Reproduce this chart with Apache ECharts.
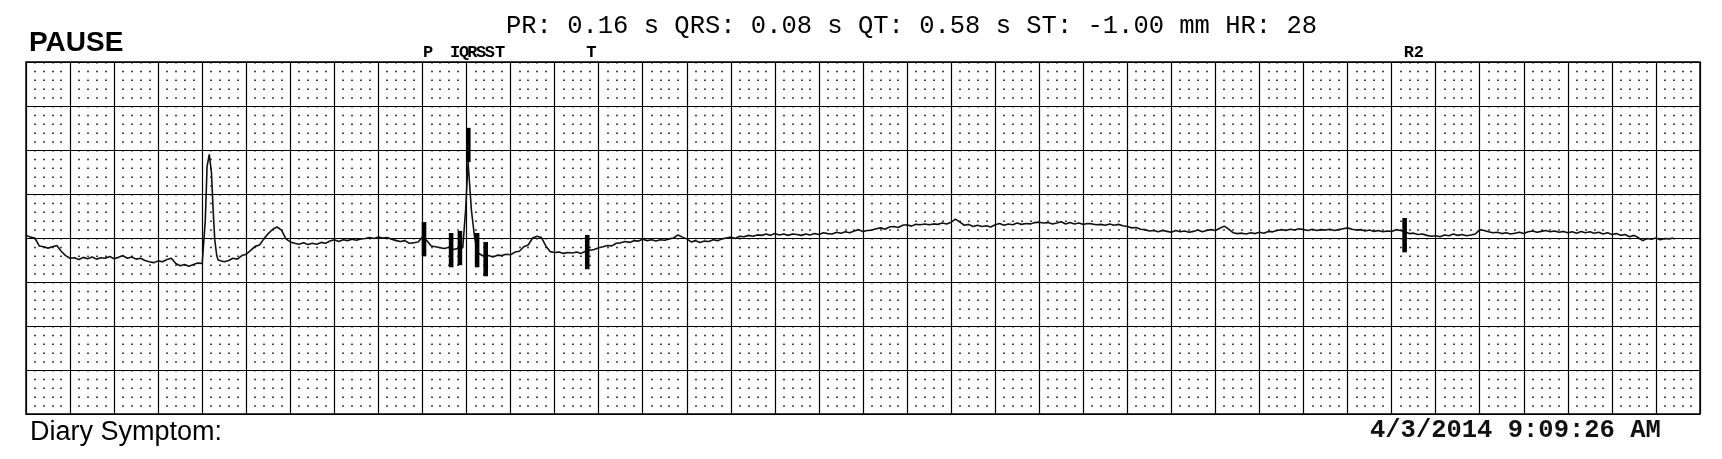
<!DOCTYPE html>
<html>
<head>
<meta charset="utf-8">
<script src="https://cdn.jsdelivr.net/npm/echarts@6/dist/echarts.min.js"></script>
<style>
html,body{margin:0;padding:0;background:#fff;}
#chart{width:1722px;height:459px;}
</style>
</head>
<body>
<div id="chart"></div>
<script>
// ---- DATA ----
const stripTitle = 'PAUSE';
const measurements = 'PR: 0.16 s QRS: 0.08 s QT: 0.58 s ST: -1.00 mm HR: 28';
const footerLeft = 'Diary Symptom:';
const footerRight = '4/3/2014 9:09:26 AM';

// ECG trace: [time (s), amplitude (mm, 10 mm = 1 mV)]
const ecgTrace = [
[0.00,0.3],[0.02,0.1],[0.04,0.0],[0.06,-0.9],[0.08,-1.0],[0.10,-1.15],[0.12,-1.0],[0.14,-0.85],[0.16,-1.5],[0.18,-2.0],
[0.20,-2.3],[0.22,-2.25],[0.24,-2.45],[0.26,-2.2],[0.28,-2.35],[0.30,-2.15],[0.32,-2.4],[0.34,-2.25],[0.36,-2.3],[0.38,-2.1],
[0.40,-2.35],[0.42,-2.2],[0.44,-2.0],[0.46,-2.3],[0.48,-2.15],[0.50,-2.4],[0.52,-2.3],[0.54,-2.55],[0.56,-2.7],[0.58,-2.8],
[0.60,-2.6],[0.62,-2.7],[0.64,-2.45],[0.66,-2.3],[0.68,-2.9],[0.70,-3.15],[0.72,-3.0],[0.74,-3.2],[0.76,-3.0],[0.78,-2.85],
[0.80,-2.9],[0.807,-2.8],[0.814,2.0],[0.822,8.1],[0.832,9.5],[0.842,7.4],[0.850,3.0],[0.857,-0.2],[0.866,-2.0],[0.872,-2.5],
[0.88,-2.6],[0.90,-2.7],[0.92,-2.55],[0.94,-2.3],[0.96,-2.4],[0.98,-2.0],[1.00,-1.85],[1.02,-1.4],[1.04,-0.95],[1.06,-0.8],
[1.08,-0.1],[1.10,0.5],[1.12,1.0],[1.14,1.25],[1.16,0.9],[1.18,-0.1],[1.20,-0.45],[1.22,-0.6],[1.24,-0.7],[1.26,-0.55],
[1.28,-0.75],[1.30,-0.6],[1.32,-0.7],[1.34,-0.5],[1.36,-0.6],[1.38,-0.35],[1.40,-0.2],[1.42,-0.4],[1.44,-0.2],[1.46,-0.3],
[1.48,-0.15],[1.50,-0.25],[1.52,-0.1],[1.54,-0.05],[1.56,0.05],[1.58,-0.05],[1.60,0.1],[1.62,0.0],[1.64,0.05],[1.66,-0.15],
[1.68,-0.3],[1.70,-0.4],[1.72,-0.3],[1.74,-0.6],[1.76,-0.55],[1.78,-0.45],[1.80,0.1],[1.82,-0.3],[1.84,-0.9],[1.86,-1.0],
[1.88,-1.1],[1.90,-1.2],[1.92,-1.05],[1.94,-1.3],[1.96,-1.2],[1.983,-1.1],[1.996,3.2],[2.007,8.7],[2.022,3.2],[2.037,0.0],
[2.052,-1.7],[2.06,-1.9],[2.08,-2.1],[2.10,-2.0],[2.12,-2.15],[2.14,-1.95],[2.16,-2.0],[2.18,-1.85],[2.20,-1.9],[2.22,-1.6],
[2.24,-1.5],[2.26,-1.0],[2.28,-0.8],[2.30,0.0],[2.32,0.2],[2.34,0.05],[2.36,-0.9],[2.38,-1.55],[2.40,-1.65],[2.42,-1.6],
[2.44,-1.75],[2.46,-1.65],[2.48,-1.7],[2.50,-1.6],[2.52,-1.75],[2.54,-1.5],[2.56,-1.4],[2.58,-1.3],[2.60,-1.1],[2.62,-1.0],
[2.64,-0.85],[2.66,-0.9],[2.68,-0.6],[2.70,-0.55],[2.72,-0.4],[2.74,-0.5],[2.76,-0.3],[2.78,-0.35],[2.80,-0.15],[2.82,-0.3],
[2.84,-0.2],[2.86,-0.35],[2.88,-0.2],[2.90,-0.25],[2.92,-0.1],[2.94,0.0],[2.96,0.35],[2.98,0.1],[3.00,-0.1],[3.02,-0.45],
[3.04,-0.3],[3.06,-0.5],[3.08,-0.35],[3.10,-0.4],[3.12,-0.2],[3.14,-0.3],[3.16,-0.1],[3.18,0.0],[3.20,0.1],[3.22,-0.05],
[3.24,0.2],[3.26,0.15],[3.28,0.3],[3.30,0.2],[3.32,0.35],[3.34,0.3],[3.36,0.45],[3.38,0.3],[3.40,0.5],[3.42,0.35],
[3.44,0.45],[3.46,0.3],[3.48,0.45],[3.50,0.4],[3.52,0.3],[3.54,0.45],[3.56,0.35],[3.58,0.5],[3.60,0.4],[3.62,0.6],
[3.64,0.5],[3.66,0.45],[3.68,0.65],[3.70,0.55],[3.72,0.7],[3.74,0.6],[3.76,0.8],[3.78,0.95],[3.80,0.75],[3.82,0.85],
[3.84,0.9],[3.86,1.05],[3.88,1.15],[3.90,1.0],[3.92,1.25],[3.94,1.3],[3.96,1.2],[3.98,1.45],[4.00,1.5],[4.02,1.35],
[4.04,1.55],[4.06,1.5],[4.08,1.6],[4.10,1.5],[4.12,1.6],[4.14,1.55],[4.16,1.7],[4.18,1.6],[4.20,1.8],[4.22,2.15],
[4.24,1.8],[4.26,1.45],[4.28,1.55],[4.30,1.3],[4.32,1.45],[4.34,1.3],[4.36,1.4],[4.38,1.25],[4.40,1.5],[4.42,1.65],
[4.44,1.45],[4.46,1.6],[4.48,1.5],[4.50,1.7],[4.52,1.55],[4.54,1.65],[4.56,1.6],[4.58,1.75],[4.60,1.8],[4.62,1.7],
[4.64,1.75],[4.66,1.6],[4.68,1.7],[4.70,1.85],[4.72,1.6],[4.74,1.75],[4.76,1.6],[4.78,1.7],[4.80,1.55],[4.82,1.65],
[4.84,1.6],[4.86,1.5],[4.88,1.55],[4.90,1.45],[4.92,1.6],[4.94,1.45],[4.96,1.55],[4.98,1.4],[5.00,1.3],[5.02,1.15],
[5.04,1.2],[5.06,1.0],[5.08,0.95],[5.10,0.8],[5.12,0.85],[5.14,0.7],[5.16,0.85],[5.18,0.75],[5.20,0.65],[5.22,0.85],
[5.24,0.7],[5.26,0.8],[5.28,0.65],[5.30,0.75],[5.32,0.9],[5.34,0.7],[5.36,0.85],[5.38,0.95],[5.40,0.85],[5.42,1.1],
[5.44,1.35],[5.46,1.0],[5.48,0.6],[5.50,0.5],[5.52,0.55],[5.54,0.45],[5.56,0.6],[5.58,0.5],[5.60,0.65],[5.62,0.55],
[5.64,0.75],[5.66,0.7],[5.68,0.85],[5.70,0.95],[5.72,0.85],[5.74,1.0],[5.76,0.9],[5.78,1.05],[5.80,0.95],[5.82,0.85],
[5.84,1.0],[5.86,0.85],[5.88,0.95],[5.90,0.9],[5.92,1.0],[5.94,0.85],[5.96,0.95],[5.98,1.05],[6.00,1.15],[6.02,1.0],
[6.04,0.9],[6.06,0.95],[6.08,0.8],[6.10,0.9],[6.12,0.75],[6.14,0.85],[6.16,0.7],[6.18,0.8],[6.20,0.75],[6.22,0.95],
[6.24,0.85],[6.26,0.7],[6.28,0.5],[6.30,0.55],[6.32,0.4],[6.34,0.45],[6.36,0.3],[6.38,0.2],[6.40,0.25],[6.42,0.15],
[6.44,0.35],[6.46,0.25],[6.48,0.45],[6.50,0.3],[6.52,0.4],[6.54,0.25],[6.56,0.35],[6.58,0.45],[6.60,0.95],[6.62,0.85],
[6.64,0.7],[6.66,0.6],[6.68,0.65],[6.70,0.5],[6.72,0.6],[6.74,0.45],[6.76,0.55],[6.78,0.65],[6.80,0.5],[6.82,0.7],
[6.84,0.8],[6.86,0.65],[6.88,0.75],[6.90,0.85],[6.92,0.7],[6.94,0.8],[6.96,0.65],[6.98,0.75],[7.00,0.6],[7.02,0.7],
[7.04,0.55],[7.06,0.75],[7.08,0.6],[7.10,0.7],[7.12,0.55],[7.14,0.65],[7.16,0.45],[7.18,0.6],[7.20,0.4],[7.22,0.5],
[7.24,0.3],[7.26,0.4],[7.28,0.15],[7.30,0.3],[7.32,0.05],[7.34,-0.3],[7.36,-0.05],[7.38,-0.15],[7.40,0.0],[7.42,-0.2],
[7.44,-0.05],[7.46,-0.1],[7.48,0.0]
];

// Annotation markers (fiducial points)
const markerLabels = ['P', 'I', 'Q', 'R', 'S', 'ST', 'T', 'R2'];
const markerTimes  = [1.807, 1.930, 1.970, 2.008, 2.048, 2.087, 2.548, 6.259];
const markerLevels = [-0.14, -1.38, -1.14, 10.57, -1.38, -2.4, -1.6, 0.32];

// Paper scale
const stripSeconds = 7.6;   // 25 mm/s
const bigBoxSeconds = 0.2;
const ampMin = -20, ampMax = 20, bigBoxMm = 5;
const markerHalfHeightMm = 1.95;

// ---- CHART ----
const chart = echarts.init(document.getElementById('chart'), null, {renderer: 'canvas'});
const monoFont = '"Liberation Mono", "Courier New", monospace';
const sansFont = '"Liberation Sans", Arial, sans-serif';

const markerData = markerTimes.map((t, i) => [t, markerLevels[i], markerLabels[i]]);

chart.setOption({
  animation: false,
  backgroundColor: '#fff',
  grid: {left: 26, top: 62, width: 1674, height: 352, show: true, borderColor: '#000', borderWidth: 1.4, backgroundColor: 'transparent'},
  xAxis: {
    type: 'value', min: 0, max: stripSeconds, interval: bigBoxSeconds,
    axisLine: {show: false}, axisTick: {show: false}, axisLabel: {show: false},
    splitLine: {show: true, lineStyle: {color: '#000', width: 1.2}},
    minorTick: {show: false, splitNumber: 5},
    minorSplitLine: {show: true, lineStyle: {color: '#000', width: 1.5, type: [1.5, 7.3], dashOffset: 0}}
  },
  yAxis: {
    type: 'value', min: ampMin, max: ampMax, interval: bigBoxMm,
    axisLine: {show: false}, axisTick: {show: false}, axisLabel: {show: false},
    splitLine: {show: true, lineStyle: {color: '#000', width: 1.2}}
  },
  graphic: [
    {type: 'text', left: 29, top: 29, style: {text: stripTitle, font: 'bold 28px ' + sansFont, fill: '#000'}},
    {type: 'text', left: 506, top: 13, style: {text: measurements, font: '25.5px ' + monoFont, fill: '#000'}},
    {type: 'text', left: 30, top: 419, style: {text: footerLeft, font: '27px ' + sansFont, fill: '#000'}},
    {type: 'text', left: 1370, top: 418, style: {text: footerRight, font: 'bold 25.5px ' + monoFont, fill: '#111'}}
  ],
  series: [
    {
      type: 'line', data: ecgTrace, showSymbol: false, symbol: 'none', z: 3,
      lineStyle: {color: '#111', width: 1.6}
    },
    {
      type: 'custom', z: 5, clip: false, data: markerData,
      renderItem: function (params, api) {
        const t = api.value(0), lvl = api.value(1);
        const c = api.coord([t, lvl]);
        const top = api.coord([t, lvl + markerHalfHeightMm])[1];
        const bot = api.coord([t, lvl - markerHalfHeightMm])[1];
        const gridTop = api.coord([t, ampMax])[1];
        return {
          type: 'group',
          children: [
            {type: 'rect', shape: {x: c[0] - 2.3, y: top, width: 4.6, height: bot - top}, style: {fill: '#000'}},
            {type: 'text', x: c[0] - 1, y: gridTop - 1, style: {text: markerData[params.dataIndex][2], font: 'bold 17px ' + monoFont, fill: '#000', align: 'left', verticalAlign: 'bottom'}}
          ]
        };
      }
    }
  ]
});
</script>
</body>
</html>
